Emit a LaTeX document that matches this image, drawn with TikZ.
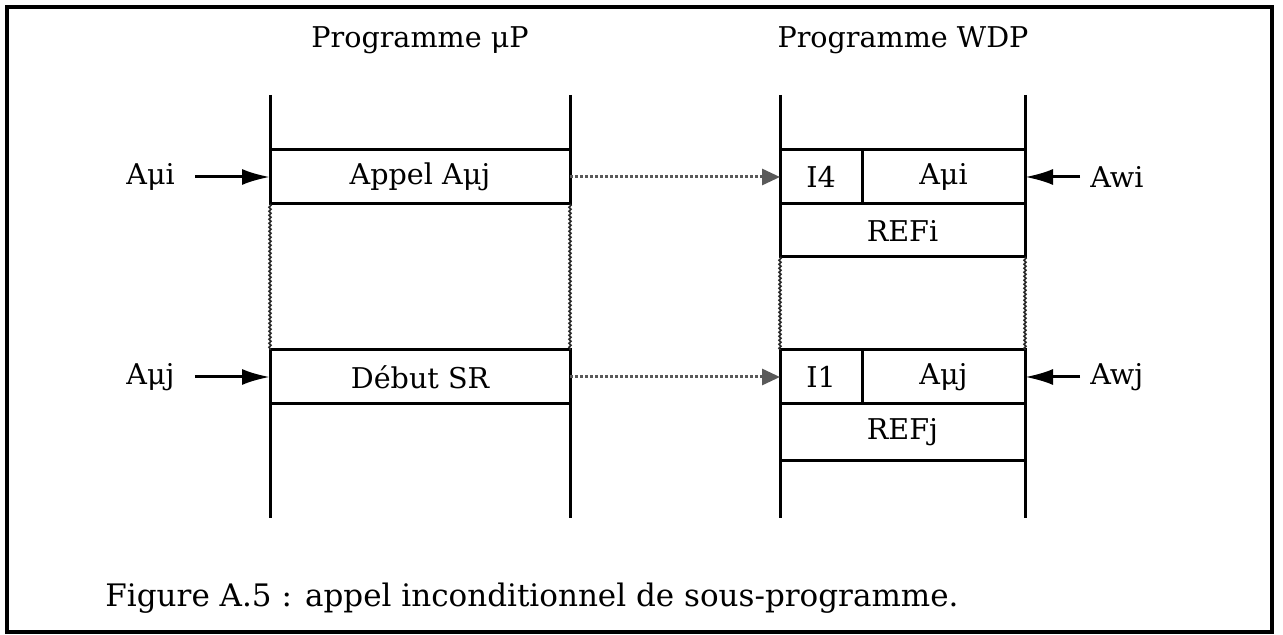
\documentclass[tikz,border=0pt]{standalone}
\usepackage{fontspec}
\setmainfont{DejaVu Serif}
\usetikzlibrary{arrows.meta,decorations.pathmorphing}

\tikzset{
  cell/.style={draw, line width=1.5pt, minimum height=27pt, inner sep=0pt,
    outer sep=0pt, font=\fontsize{14.3}{16}\selectfont},
  col/.style={line width=1.5pt},
  seam/.style={line width=0.8pt, black!85, decorate,
    decoration={snake, amplitude=0.5pt, segment length=2pt}},
  ptr/.style={line width=1.5pt, -{Latex[length=14pt,width=8pt]}},
  link/.style={line width=1.5pt, black!65, densely dotted,
    -{Triangle[length=9pt,width=8pt]}},
  lbl/.style={font=\fontsize{14.3}{16}\selectfont, inner sep=0pt}
}

\begin{document}
\begin{tikzpicture}[x=0.5pt, y=-0.5pt]
  \useasboundingbox (0,0) rectangle (1283,635);
  \draw[line width=1.6pt] (7,7) rectangle (1272,632);

  % titles
  \node[lbl] (titup) at (420,40) {Programme μP};
  \node[lbl] (titwdp) at (903,40) {Programme WDP};

  % program muP
  \node[cell, minimum width=150pt] (appel) at (420,177) {Appel Aμj};
  \node[cell, minimum width=150pt] (debut) at (420,377) {Début SR};
  \coordinate (lt) at (270,95);
  \coordinate (rt) at (570,95);
  \coordinate (lb) at (270,518);
  \coordinate (rb) at (570,518);
  \draw[col] (lt) -- (appel.north west);
  \draw[col] (rt) -- (appel.north east);
  \draw[seam] (appel.south west) -- (debut.north west);
  \draw[seam] (appel.south east) -- (debut.north east);
  \draw[col] (debut.south west) -- (lb);
  \draw[col] (debut.south east) -- (rb);

  % program WDP
  \node[cell, minimum width=41pt] (ifour) at (821,177) {I4};
  \node[cell, minimum width=81.5pt] (ami) at (943.5,177) {Aμi};
  \node[cell, minimum width=122.5pt, minimum height=26.5pt] (refi) at (902.5,230.5) {REFi};
  \node[cell, minimum width=41pt] (ione) at (821,377) {I1};
  \node[cell, minimum width=81.5pt] (amj) at (943.5,377) {Aμj};
  \node[cell, minimum width=122.5pt, minimum height=28pt] (refj) at (902.5,432) {REFj};
  \coordinate (wlt) at (780,95);
  \coordinate (wrt) at (1025,95);
  \coordinate (wlb) at (780,518);
  \coordinate (wrb) at (1025,518);
  \draw[col] (wlt) -- (ifour.north west);
  \draw[col] (wrt) -- (ami.north east);
  \draw[seam] (refi.south west) -- (ione.north west);
  \draw[seam] (refi.south east) -- (amj.north east);
  \draw[col] (refj.south west) -- (wlb);
  \draw[col] (refj.south east) -- (wrb);

  % addresses
  \node[lbl, anchor=west] (ai) at (126,177) {Aμi};
  \node[lbl, anchor=west] (aj) at (126,377) {Aμj};
  \node[lbl, anchor=west] (awi) at (1090,177) {Awi};
  \node[lbl, anchor=west] (awj) at (1090,377) {Awj};
  \draw[ptr] (ai.east) ++(20,0) -- (appel.west);
  \draw[ptr] (aj.east) ++(20,0) -- (debut.west);
  \draw[ptr] (awi.west) ++(-10,0) -- (ami.east);
  \draw[ptr] (awj.west) ++(-10,0) -- (amj.east);

  % links
  \draw[link] (appel.east) -- (ifour.west);
  \draw[link] (debut.east) -- (ione.west);

  % caption
  \node[lbl, font=\fontsize{15.5}{18}\selectfont] (cap) at (532,598)
    {Figure A.5 : appel inconditionnel de sous-programme.};
\end{tikzpicture}
\end{document}
